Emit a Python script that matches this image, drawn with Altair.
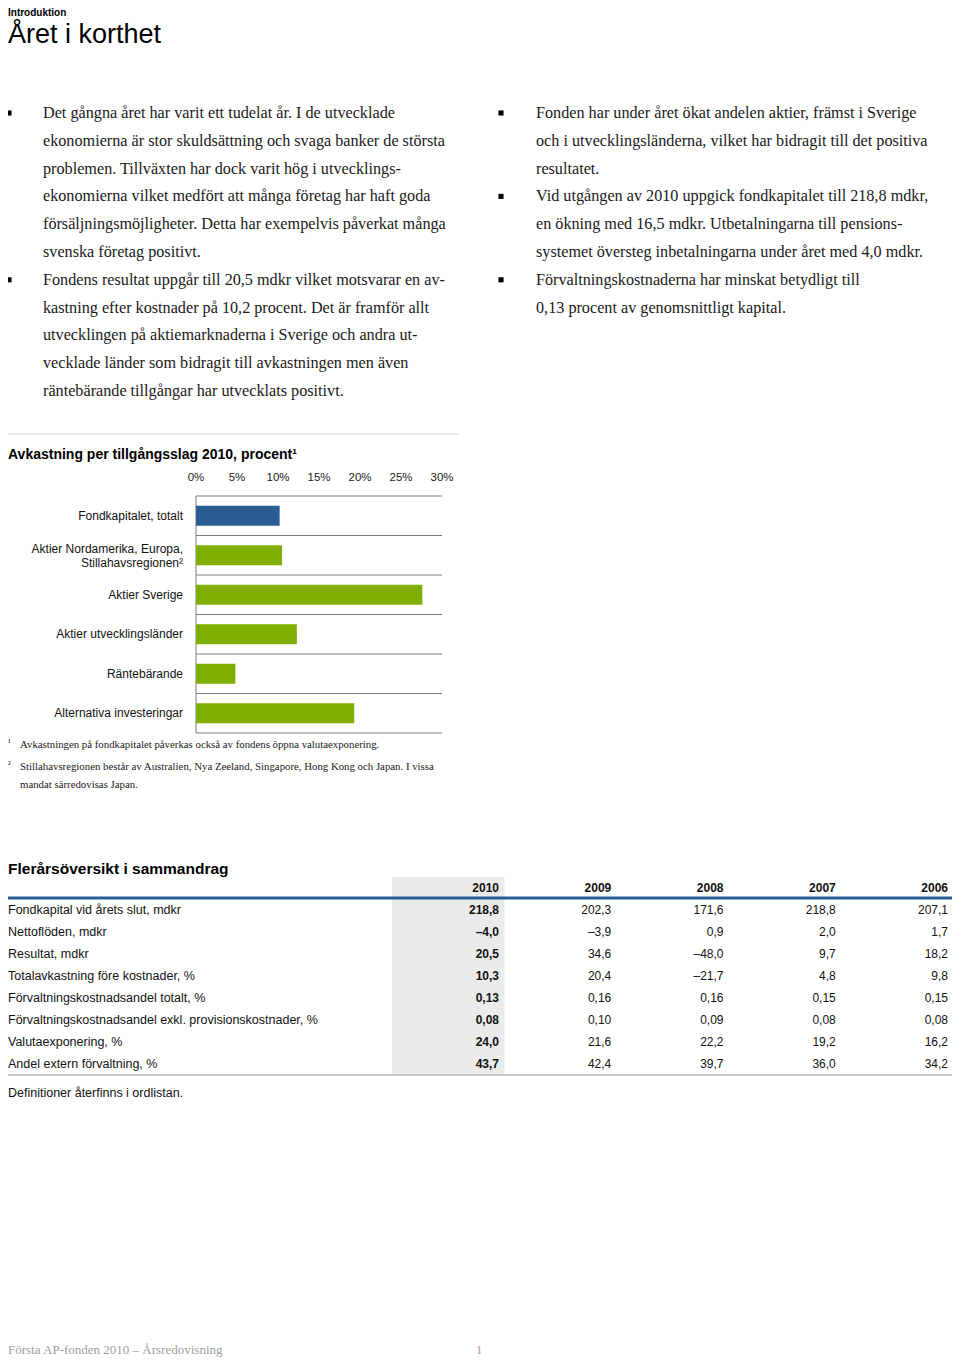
import altair as alt
import pandas as pd

SANS = "Liberation Sans"
SERIF = "Liberation Serif"
INK = "#1a1a1a"
BLUE = "#2a5d94"
GREEN = "#7fae00"

# ---------------- text content ----------------
HEAD_SMALL = "Introduktion"
HEAD_BIG = "Året i korthet"

LEFT_LINES = [
    "Det gångna året har varit ett tudelat år. I de utvecklade",
    "ekonomierna är stor skuldsättning och svaga banker de största",
    "problemen. Tillväxten har dock varit hög i utvecklings-",
    "ekonomierna vilket medfört att många företag har haft goda",
    "försäljningsmöjligheter. Detta har exempelvis påverkat många",
    "svenska företag positivt.",
    "Fondens resultat uppgår till 20,5 mdkr vilket motsvarar en av-",
    "kastning efter kostnader på 10,2 procent. Det är framför allt",
    "utvecklingen på aktiemarknaderna i Sverige och andra ut-",
    "vecklade länder som bidragit till avkastningen men även",
    "räntebärande tillgångar har utvecklats positivt.",
]
LEFT_BULLETS = [0, 6]
RIGHT_LINES = [
    "Fonden har under året ökat andelen aktier, främst i Sverige",
    "och i utvecklingsländerna, vilket har bidragit till det positiva",
    "resultatet.",
    "Vid utgången av 2010 uppgick fondkapitalet till 218,8 mdkr,",
    "en ökning med 16,5 mdkr. Utbetalningarna till pensions-",
    "systemet översteg inbetalningarna under året med 4,0 mdkr.",
    "Förvaltningskostnaderna har minskat betydligt till",
    "0,13 procent av genomsnittligt kapital.",
]
RIGHT_BULLETS = [0, 3, 6]

# ---------------- bar chart ----------------
CHART_TITLE = "Avkastning per tillgångsslag 2010, procent¹"
CATEGORIES = [
    "Fondkapitalet, totalt",
    "Aktier Nordamerika, Europa,\nStillahavsregionen²",
    "Aktier Sverige",
    "Aktier utvecklingsländer",
    "Räntebärande",
    "Alternativa investeringar",
]
RETURNS = [10.2, 10.5, 27.6, 12.3, 4.8, 19.3]
KINDS = ["total", "asset", "asset", "asset", "asset", "asset"]
TICKS = [0, 5, 10, 15, 20, 25, 30]

FOOT_MARKS = ["¹", "²", ""]
FOOT_LINES = [
    "Avkastningen på fondkapitalet påverkas också av fondens öppna valutaexponering.",
    "Stillahavsregionen består av Australien, Nya Zeeland, Singapore, Hong Kong och Japan. I vissa",
    "mandat särredovisas Japan.",
]

# ---------------- table ----------------
TABLE_TITLE = "Flerårsöversikt i sammandrag"
YEARS = ["2010", "2009", "2008", "2007", "2006"]
ROW_LABELS = [
    "Fondkapital vid årets slut, mdkr",
    "Nettoflöden, mdkr",
    "Resultat, mdkr",
    "Totalavkastning före kostnader, %",
    "Förvaltningskostnadsandel totalt, %",
    "Förvaltningskostnadsandel exkl. provisionskostnader, %",
    "Valutaexponering, %",
    "Andel extern förvaltning, %",
]
V2010 = ["218,8", "–4,0", "20,5", "10,3", "0,13", "0,08", "24,0", "43,7"]
V2009 = ["202,3", "–3,9", "34,6", "20,4", "0,16", "0,10", "21,6", "42,4"]
V2008 = ["171,6", "0,9", "–48,0", "–21,7", "0,16", "0,09", "22,2", "39,7"]
V2007 = ["218,8", "2,0", "9,7", "4,8", "0,15", "0,08", "19,2", "36,0"]
V2006 = ["207,1", "1,7", "18,2", "9,8", "0,15", "0,08", "16,2", "34,2"]
TABLE_NOTE = "Definitioner återfinns i ordlistan."
FOOTER_LEFT = "Första AP-fonden 2010  –  Årsredovisning"
FOOTER_RIGHT = "1"


def lin(domain, rng):
    return alt.Scale(domain=domain, range=rng, zero=False, nice=False)


one = pd.DataFrame({"t": [0]})

layers = []

# header
layers.append(
    alt.Chart(pd.DataFrame({"t": [HEAD_SMALL]}))
    .mark_text(font=SANS, fontSize=10, fontWeight="bold", align="left", baseline="top", color="black")
    .encode(x=alt.value(0), y=alt.value(0), text="t:N")
)
layers.append(
    alt.Chart(pd.DataFrame({"t": [HEAD_BIG]}))
    .mark_text(font=SANS, fontSize=27, align="left", baseline="middle", color="black")
    .encode(x=alt.value(0), y=alt.value(27), text="t:N")
)

# paragraphs
para = pd.DataFrame(
    {"col": [0] * len(LEFT_LINES) + [1] * len(RIGHT_LINES),
     "line": list(range(len(LEFT_LINES))) + list(range(len(RIGHT_LINES))),
     "t": LEFT_LINES + RIGHT_LINES}
)
line_scale = lin([0, 10], [105, 383])
layers.append(
    alt.Chart(para)
    .mark_text(font=SERIF, fontSize=16.2, align="left", baseline="middle", color=INK)
    .encode(
        x=alt.X("col:Q", scale=lin([0, 1], [35, 528]), axis=None),
        y=alt.Y("line:Q", scale=line_scale, axis=None),
        text="t:N",
    )
)
bul = pd.DataFrame(
    {"col": [0] * len(LEFT_BULLETS) + [1] * len(RIGHT_BULLETS),
     "line": LEFT_BULLETS + RIGHT_BULLETS}
)
layers.append(
    alt.Chart(bul)
    .mark_square(size=26, filled=True, color="black", opacity=1)
    .encode(
        x=alt.X("col:Q", scale=lin([0, 1], [1, 493]), axis=None),
        y=alt.Y("line:Q", scale=line_scale, axis=None),
    )
)

# separator line above chart
layers.append(
    alt.Chart(one).mark_rule(color="#d4d4d4", strokeWidth=1)
    .encode(x=alt.value(0), x2=alt.value(451), y=alt.value(426))
)
layers.append(
    alt.Chart(pd.DataFrame({"t": [CHART_TITLE]}))
    .mark_text(font=SANS, fontSize=14, fontWeight="bold", align="left", baseline="middle", color="black")
    .encode(x=alt.value(0), y=alt.value(447), text="t:N")
)

# bar chart
val_scale = lin([0, 30], [188, 434])
cat_scale = alt.Scale(domain=CATEGORIES, range=[488, 725], paddingInner=0.49, paddingOuter=0.245)
sep_scale = lin([0, len(CATEGORIES)], [488, 725])

bars = pd.DataFrame({"cat": CATEGORIES, "v": RETURNS, "kind": KINDS})
bars["lines"] = bars["cat"].str.count("\n") + 1
ticks = pd.DataFrame({"tick": TICKS})
seps = pd.DataFrame({"i": list(range(len(CATEGORIES) + 1)), "a": 0, "b": 30})

layers.append(
    alt.Chart(ticks)
    .transform_calculate(lab="datum.tick + '%'")
    .mark_text(font=SANS, fontSize=11.5, align="center", baseline="middle", color="#222")
    .encode(x=alt.X("tick:Q", scale=val_scale, axis=None), y=alt.value(470), text="lab:N")
)
layers.append(
    alt.Chart(seps).mark_rule(color="#7a7a7a", strokeWidth=1)
    .encode(
        x=alt.X("a:Q", scale=val_scale, axis=None), x2="b:Q",
        y=alt.Y("i:Q", scale=sep_scale, axis=None),
    )
)
layers.append(
    alt.Chart(one).mark_rule(color="#7a7a7a", strokeWidth=1)
    .encode(
        x=alt.X(datum=0, scale=val_scale, axis=None),
        y=alt.Y(datum=0, scale=sep_scale, axis=None),
        y2=alt.Y2(datum=len(CATEGORIES)),
    )
)
layers.append(
    alt.Chart(bars).mark_bar()
    .encode(
        x=alt.X("v:Q", scale=val_scale, axis=None),
        y=alt.Y("cat:N", scale=cat_scale, axis=None, sort=CATEGORIES),
        color=alt.Color("kind:N", scale=alt.Scale(domain=["total", "asset"], range=[BLUE, GREEN]), legend=None),
    )
)
for n_lines, shift in [(1, 0), (2, -6)]:
    layers.append(
        alt.Chart(bars)
        .transform_filter(f"datum.lines == {n_lines}")
        .mark_text(font=SANS, fontSize=12, align="right", baseline="middle", color="#111",
                   lineBreak="\n", lineHeight=14, dy=shift)
        .encode(
            x=alt.value(175),
            y=alt.Y("cat:N", scale=cat_scale, axis=None, sort=CATEGORIES),
            text="cat:N",
        )
    )

# footnotes
foot = pd.DataFrame({"line": list(range(len(FOOT_LINES))), "m": FOOT_MARKS, "t": FOOT_LINES})
foot_scale = alt.Scale(domain=[0, 1, 2], range=[737, 759, 777], zero=False, nice=False)
layers.append(
    alt.Chart(foot)
    .mark_text(font=SERIF, fontSize=10.8, align="left", baseline="middle", color=INK)
    .encode(x=alt.value(12), y=alt.Y("line:Q", scale=foot_scale, axis=None), text="t:N")
)
layers.append(
    alt.Chart(foot)
    .mark_text(font=SERIF, fontSize=9, align="left", baseline="middle", color=INK, dy=-3)
    .encode(x=alt.value(0), y=alt.Y("line:Q", scale=foot_scale, axis=None), text="m:N")
)

# table
layers.append(
    alt.Chart(pd.DataFrame({"t": [TABLE_TITLE]}))
    .mark_text(font=SANS, fontSize=15.5, fontWeight="bold", align="left", baseline="middle", color="black")
    .encode(x=alt.value(0), y=alt.value(861), text="t:N")
)
row_scale = lin([-1, 7], [880, 1056])
year_band = alt.Scale(domain=YEARS, range=[384, 946], paddingInner=0, paddingOuter=0)
year_pt = alt.Scale(type="point", domain=YEARS, range=[496, 945], padding=0)

layers.append(
    alt.Chart(pd.DataFrame({"year": [YEARS[0]]})).mark_rect(color="#ebebeb")
    .encode(
        x=alt.X("year:N", scale=year_band, axis=None),
        y=alt.Y(datum=-1.5, scale=row_scale, axis=None),
        y2=alt.Y2(datum=7.5),
    )
)
layers.append(
    alt.Chart(one).mark_rule(color=BLUE, strokeWidth=3)
    .encode(x=alt.value(0), x2=alt.value(946), y=alt.Y(datum=-0.55, scale=row_scale, axis=None))
)
layers.append(
    alt.Chart(one).mark_rule(color="#9a9a9a", strokeWidth=1)
    .encode(x=alt.value(0), x2=alt.value(946), y=alt.Y(datum=7.5, scale=row_scale, axis=None))
)
layers.append(
    alt.Chart(pd.DataFrame({"year": YEARS, "r": -1}))
    .mark_text(font=SANS, fontSize=12, fontWeight="bold", align="right", baseline="middle", color="#111", dx=-5)
    .encode(
        x=alt.X("year:N", scale=year_pt, axis=None),
        y=alt.Y("r:Q", scale=row_scale, axis=None),
        text="year:N",
    )
)
layers.append(
    alt.Chart(pd.DataFrame({"r": list(range(len(ROW_LABELS))), "t": ROW_LABELS}))
    .mark_text(font=SANS, fontSize=12.5, align="left", baseline="middle", color="#111")
    .encode(x=alt.value(0), y=alt.Y("r:Q", scale=row_scale, axis=None), text="t:N")
)
cols = {"2010": V2010, "2009": V2009, "2008": V2008, "2007": V2007, "2006": V2006}
cells = pd.DataFrame(
    [{"year": y, "r": i, "v": v} for y, vals in cols.items() for i, v in enumerate(vals)]
)
for bold, sub in [(True, cells[cells.year == "2010"]), (False, cells[cells.year != "2010"])]:
    layers.append(
        alt.Chart(sub)
        .mark_text(font=SANS, fontSize=12, fontWeight="bold" if bold else "normal",
                   align="right", baseline="middle", color="#111", dx=-5)
        .encode(
            x=alt.X("year:N", scale=year_pt, axis=None),
            y=alt.Y("r:Q", scale=row_scale, axis=None),
            text="v:N",
        )
    )
layers.append(
    alt.Chart(pd.DataFrame({"t": [TABLE_NOTE]}))
    .mark_text(font=SANS, fontSize=12.5, align="left", baseline="middle", color="#111")
    .encode(x=alt.value(0), y=alt.value(1085), text="t:N")
)

# page footer
layers.append(
    alt.Chart(pd.DataFrame({"t": [FOOTER_LEFT]}))
    .mark_text(font=SERIF, fontSize=13, align="left", baseline="middle", color="#a0a0a0")
    .encode(x=alt.value(0), y=alt.value(1342), text="t:N")
)
layers.append(
    alt.Chart(pd.DataFrame({"t": [FOOTER_RIGHT]}))
    .mark_text(font=SERIF, fontSize=13, align="left", baseline="middle", color="#a0a0a0")
    .encode(x=alt.value(468), y=alt.value(1342), text="t:N")
)

chart = (
    alt.layer(*layers)
    .resolve_scale(x="independent", y="independent", color="independent")
    .properties(width=944, height=1350, padding=0, autosize=alt.AutoSizeParams(type="none"), background="white")
    .configure_view(stroke=None)
)

chart.save("out.html", embed_options={"renderer": "svg", "actions": False})
